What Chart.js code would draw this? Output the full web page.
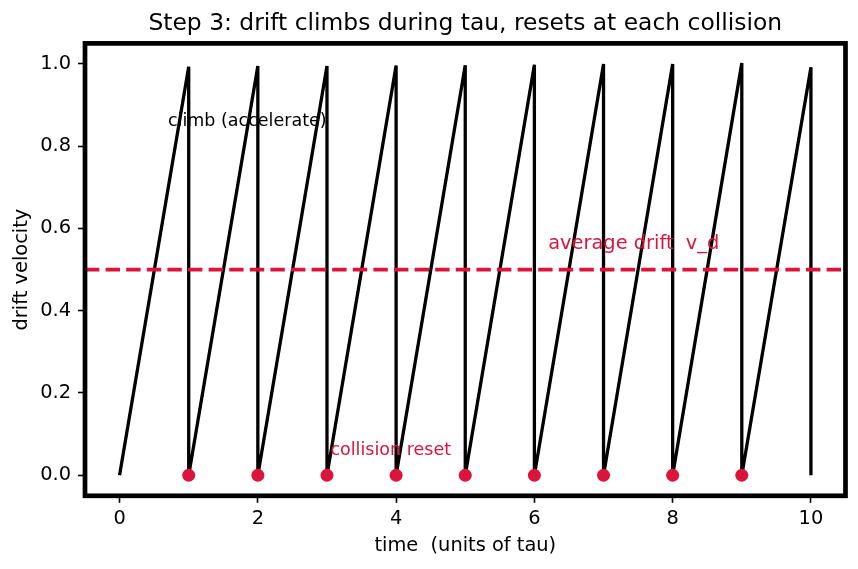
<!DOCTYPE html>
<html>
<head>
<meta charset="utf-8">
<script src="https://cdn.jsdelivr.net/npm/chart.js@4"></script>
<style>
  html, body { margin: 0; padding: 0; background: #ffffff; }
  #wrap { width: 858px; height: 569px; }
</style>
</head>
<body>
<div id="wrap"><canvas id="c" width="858" height="569"></canvas></div>
<script>
// ---- data ----
const collisionTimes = [1, 2, 3, 4, 5, 6, 7, 8, 9, 10];
const peakVelocity   = [0.993, 0.995, 0.995, 0.996, 0.997, 0.998, 1.0, 1.0, 1.002, 0.992];
const resetTimes     = [1, 2, 3, 4, 5, 6, 7, 8, 9];
const resetVelocity  = [0, 0, 0, 0, 0, 0, 0, 0, 0];
const averageDrift   = 0.5;
const xRange         = [-0.5, 10.5];
const yRange         = [-0.05, 1.05];
const xTicks         = [0, 2, 4, 6, 8, 10];
const yTicks         = [0.0, 0.2, 0.4, 0.6, 0.8, 1.0];
const noteTexts      = ["climb (accelerate)", "average drift  v_d", "collision reset"];
const noteX          = [0.7, 6.2, 3.05];
const noteY          = [0.85, 0.55, 0.05];

const CRIMSON = '#DC143C';
const FONT = '"DejaVu Sans", Verdana, sans-serif';

// sawtooth: start at 0, climb to peak, drop to 0 at each collision
const sawPoints = [{x: 0, y: 0}];
collisionTimes.forEach((t, i) => {
  sawPoints.push({x: t, y: peakVelocity[i]});
  sawPoints.push({x: t, y: 0});
});
const resetPoints = resetTimes.map((t, i) => ({x: t, y: resetVelocity[i]}));
const avgPoints = xRange.map(x => ({x: x, y: averageDrift}));

const notePlugin = {
  id: 'notes',
  afterDatasetsDraw(chart) {
    const ctx = chart.ctx;
    const xs = chart.scales.x, ys = chart.scales.y;
    const sizes = [17.5, 19.4, 17.5];
    const colors = ['#000000', CRIMSON, CRIMSON];
    ctx.save();
    ctx.textAlign = 'left';
    ctx.textBaseline = 'alphabetic';
    noteTexts.forEach((t, i) => {
      ctx.font = sizes[i] + 'px ' + FONT;
      ctx.fillStyle = colors[i];
      ctx.fillText(t, xs.getPixelForValue(noteX[i]), ys.getPixelForValue(noteY[i]));
    });
    ctx.restore();
  }
};

const framePlugin = {
  id: 'frame',
  afterDraw(chart) {
    const a = chart.chartArea;
    const ctx = chart.ctx;
    ctx.save();
    ctx.strokeStyle = '#000000';
    ctx.lineWidth = 4.7;
    ctx.strokeRect(a.left, a.top, a.right - a.left, a.bottom - a.top);
    ctx.restore();
  }
};

new Chart(document.getElementById('c'), {
  type: 'line',
  data: {
    datasets: [
      {
        data: sawPoints,
        borderColor: '#000000',
        borderWidth: 3.3,
        pointRadius: 0,
        tension: 0,
        fill: false,
        order: 3
      },
      {
        type: 'scatter',
        data: resetPoints,
        backgroundColor: CRIMSON,
        borderColor: CRIMSON,
        borderWidth: 0,
        pointRadius: 6.5,
        order: 1
      },
      {
        data: avgPoints,
        borderColor: CRIMSON,
        borderWidth: 3.9,
        borderDash: [14.4, 6.2],
        pointRadius: 0,
        fill: false,
        order: 2
      }
    ]
  },
  options: {
    responsive: false,
    animation: false,
    devicePixelRatio: 1,
    layout: { padding: { left: 0, right: 12.5, top: 0, bottom: 0 } },
    plugins: {
      legend: { display: false },
      tooltip: { enabled: false },
      title: {
        display: true,
        fullSize: false,
        text: 'Step 3: drift climbs during tau, resets at each collision',
        color: '#000000',
        font: { family: FONT, size: 23.4, weight: 'normal' },
        padding: { top: 9.7, bottom: 5.6 }
      }
    },
    scales: {
      x: {
        type: 'linear',
        min: xRange[0],
        max: xRange[1],
        afterBuildTicks(scale) { scale.ticks = xTicks.map(v => ({value: v})); },
        afterFit(scale) { scale.height = 73.2; },
        border: { display: false },
        grid: { display: true, drawOnChartArea: false, drawTicks: true, tickLength: 7, tickColor: '#000000', tickWidth: 1.6 },
        ticks: {
          color: '#000000',
          font: { family: FONT, size: 19.4 },
          padding: 5,
          maxRotation: 0,
          callback: v => String(v)
        },
        title: {
          display: true,
          text: 'time  (units of tau)',
          color: '#000000',
          font: { family: FONT, size: 19.4 },
          padding: { top: 0, bottom: 11 }
        }
      },
      y: {
        type: 'linear',
        min: yRange[0],
        max: yRange[1],
        afterBuildTicks(scale) { scale.ticks = yTicks.map(v => ({value: v})); },
        afterFit(scale) { scale.width = 85; },
        border: { display: false },
        grid: { display: true, drawOnChartArea: false, drawTicks: true, tickLength: 7, tickColor: '#000000', tickWidth: 1.6 },
        ticks: {
          color: '#000000',
          font: { family: FONT, size: 19.4 },
          padding: 7,
          callback: v => Number(v).toFixed(1)
        },
        title: {
          display: true,
          text: 'drift velocity',
          color: '#000000',
          font: { family: FONT, size: 19.4 },
          padding: { top: 10, bottom: 0 }
        }
      }
    }
  },
  plugins: [notePlugin, framePlugin]
});
</script>
</body>
</html>
